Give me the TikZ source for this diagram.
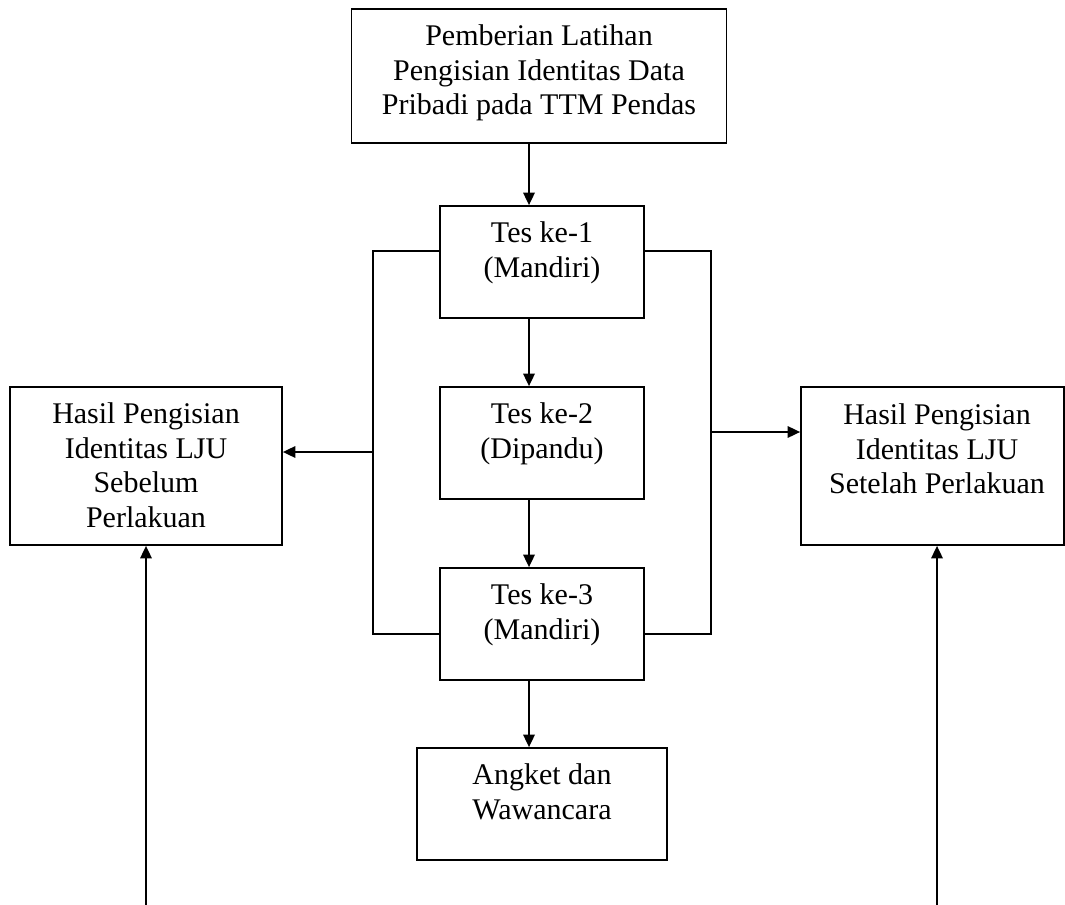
\documentclass[tikz,border=0pt]{standalone}
\usepackage{fontspec}
\setmainfont{Liberation Serif}
\usetikzlibrary{arrows.meta}
\begin{document}
\begin{tikzpicture}[x=0.4pt,y=-0.4pt,
  box/.style={draw, line width=0.7pt, inner sep=0pt, rectangle},
  txt/.style={align=center, inner sep=0pt, anchor=north, yshift=-5.2pt, font=\fontsize{12}{13.8}\selectfont},
  arr/.style={-{Triangle[length=5pt,width=4.6pt]}, line width=0.7pt},
  ln/.style={line width=0.7pt}]
\useasboundingbox (0,0) rectangle (1065,905);
% boxes
\node[box, minimum width=150pt, minimum height=53.6pt] (top) at (539,76) {};
\node[box, minimum width=81.6pt, minimum height=44.8pt] (t1) at (542,262) {};
\node[box, minimum width=81.6pt, minimum height=44.8pt] (t2) at (542,443) {};
\node[box, minimum width=81.6pt, minimum height=44.8pt] (t3) at (542,624) {};
\node[box, minimum width=100pt, minimum height=44.8pt] (ang) at (542,804) {};
\node[box, minimum width=108.8pt, minimum height=63.2pt] (left) at (146,466) {};
\node[box, minimum width=105.2pt, minimum height=63.2pt] (right) at (932.5,466) {};
% texts
\node[txt] (ttop) at (top.north) {\strut Pemberian Latihan\\Pengisian Identitas Data\\Pribadi pada TTM Pendas};
\node[txt] (tt1) at (t1.north) {\strut Tes ke-1\\(Mandiri)};
\node[txt] (tt2) at (t2.north) {\strut Tes ke-2\\(Dipandu)};
\node[txt] (tt3) at (t3.north) {\strut Tes ke-3\\(Mandiri)};
\node[txt] (tang) at (ang.north) {\strut Angket dan\\Wawancara};
\node[txt] (tleft) at (left.north) {\strut Hasil Pengisian\\Identitas LJU\\Sebelum\\Perlakuan};
\coordinate (rc) at (937,387);
\node[txt] (tright) at (rc) {\strut Hasil Pengisian\\Identitas LJU\\Setelah Perlakuan};
% central arrows
\coordinate (ax) at (529,0);
\draw[arr] (top.south -| ax) -- (t1.north -| ax);
\draw[arr] (t1.south -| ax) -- (t2.north -| ax);
\draw[arr] (t2.south -| ax) -- (t3.north -| ax);
\draw[arr] (t3.south -| ax) -- (ang.north -| ax);
% brackets
\coordinate (bl) at (373,0);
\coordinate (br) at (711,0);
\coordinate (y1) at (0,251);
\coordinate (y3) at (0,634);
\draw[ln] (t1.west |- y1) -| (bl |- y3) -- (t3.west |- y3);
\draw[ln] (t1.east |- y1) -| (br |- y3) -- (t3.east |- y3);
\coordinate (la) at (373,452);
\coordinate (ra) at (711,432);
\draw[arr] (la) -- (left.east |- la);
\draw[arr] (ra) -- (right.west |- ra);
% bottom arrows
\coordinate (lb) at (146,905);
\coordinate (rb) at (937,905);
\draw[arr] (lb) -- (left.south -| lb);
\draw[arr] (rb) -- (right.south -| rb);
\end{tikzpicture}
\end{document}
